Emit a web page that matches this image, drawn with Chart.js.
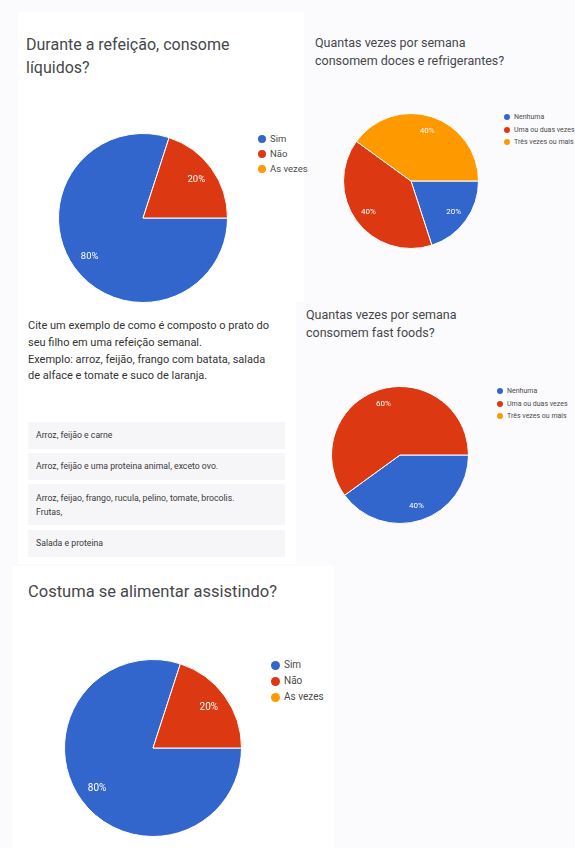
<!DOCTYPE html>
<html>
<head>
<meta charset="utf-8">
<script src="https://cdn.jsdelivr.net/npm/chart.js@4.4.1/dist/chart.umd.min.js"></script>
<style>
  html, body { margin: 0; padding: 0; }
  body {
    width: 575px; height: 848px; position: relative; overflow: hidden;
    background: #fbfbfd; font-family: Roboto, "Noto Sans", sans-serif; color: #3c4043;
  }
  .card { position: absolute; background: #ffffff; }
  .title { position: absolute; white-space: nowrap; color: #45474a; }
  canvas { position: absolute; }
  .legend { position: absolute; white-space: nowrap; color: #4a4a4a; }
  .legend div { position: relative; }
  .legend span.dot { position: absolute; border-radius: 50%; }
  .answer {
    position: absolute; left: 28px; width: 249px; padding-left: 8px;
    background: #f6f6f8; font-size: 8.7px; color: #3a3a3a; line-height: 14px;
  }
</style>
</head>
<body>
<div class="card" style="left:18px;top:12px;width:286px;height:290px;"></div>
<div class="card" style="left:18px;top:302px;width:278px;height:262px;"></div>
<div class="card" style="left:12px;top:566px;width:322px;height:282px;"></div>

<div class="title" style="left:26px;top:33px;font-size:16px;line-height:23px;">Durante a refeição, consome<br>líquidos?</div>
<div class="title" style="left:315px;top:34px;font-size:12.5px;line-height:18px;">Quantas vezes por semana<br>consomem doces e refrigerantes?</div>
<div class="title" style="left:28px;top:318px;font-size:11px;line-height:16.8px;color:#333;">Cite um exemplo de como é composto o prato do<br>seu filho em uma refeição semanal.<br>Exemplo: arroz, feijão, frango com batata, salada<br>de alface e tomate e suco de laranja.</div>
<div class="title" style="left:306px;top:306px;font-size:12.5px;line-height:18px;">Quantas vezes por semana<br>consomem fast foods?</div>
<div class="title" style="left:28px;top:580px;font-size:16.5px;line-height:24px;">Costuma se alimentar assistindo?</div>

<div class="answer" style="top:422px;height:27px;line-height:27px;">Arroz, feijão e carne</div>
<div class="answer" style="top:453px;height:27px;line-height:27px;">Arroz, feijão e uma proteina animal, exceto ovo.</div>
<div class="answer" style="top:484px;height:41px;padding-top:7px;box-sizing:border-box;width:257px;">Arroz, feijao, frango, rucula, pelino, tomate, brocolis.<br>Frutas,</div>
<div class="answer" style="top:530px;height:27px;line-height:27px;">Salada e proteina</div>

<canvas id="pie1" width="172" height="172" style="left:57px;top:132px;"></canvas>
<canvas id="pie2" width="138" height="138" style="left:342px;top:112px;"></canvas>
<canvas id="pie4" width="140" height="140" style="left:330px;top:385px;"></canvas>
<canvas id="pie5" width="180" height="180" style="left:63px;top:658px;"></canvas>

<div class="legend" id="leg1" style="left:258px;top:131px;font-size:9.5px;"></div>
<div class="legend" id="leg2" style="left:504px;top:111px;font-size:7px;"></div>
<div class="legend" id="leg4" style="left:497px;top:385px;font-size:7px;"></div>
<div class="legend" id="leg5" style="left:271px;top:657px;font-size:10px;"></div>

<script>
const colors = ["#3366cc", "#dc3912", "#ff9900"];

const liquidosLabels = ["Sim", "Não", "As vezes"];
const liquidosValues = [80, 20, 0];

const docesLabels = ["Nenhuma", "Uma ou duas vezes", "Três vezes ou mais"];
const docesValues = [20, 40, 40];

const fastLabels = ["Nenhuma", "Uma ou duas vezes", "Três vezes ou mais"];
const fastValues = [40, 60, 0];

const assistindoLabels = ["Sim", "Não", "As vezes"];
const assistindoValues = [80, 20, 0];

const pctLabels = {
  id: "pctLabels",
  afterDatasetsDraw(chart, args, opts) {
    const { ctx } = chart;
    const meta = chart.getDatasetMeta(0);
    const data = chart.data.datasets[0].data;
    ctx.save();
    ctx.fillStyle = "#ffffff";
    ctx.font = opts.size + "px Roboto";
    ctx.textAlign = "center";
    ctx.textBaseline = "middle";
    meta.data.forEach((arc, i) => {
      if (!data[i]) return;
      const p = arc.getProps(["x", "y", "startAngle", "endAngle", "outerRadius"], true);
      const mid = (p.startAngle + p.endAngle) / 2;
      const r = p.outerRadius * 0.78;
      ctx.fillText(data[i] + "%", p.x + Math.cos(mid) * r, p.y + Math.sin(mid) * r);
    });
    ctx.restore();
  }
};

function makePie(id, labels, values, labelSize) {
  new Chart(document.getElementById(id).getContext("2d"), {
    type: "pie",
    plugins: [pctLabels],
    data: {
      labels,
      datasets: [
        {
          data: values,
          backgroundColor: colors,
          borderColor: "#ffffff",
          borderWidth: 1
        }
      ]
    },
    options: {
      responsive: false,
      animation: false,
      rotation: 90,
      layout: { padding: 1 },
      plugins: {
        legend: { display: false },
        tooltip: { enabled: false },
        pctLabels: { size: labelSize }
      }
    }
  });
}

function makeLegend(id, labels, dot, rowH) {
  const box = document.getElementById(id);
  labels.forEach((label, i) => {
    const row = document.createElement("div");
    row.style.height = rowH + "px";
    row.style.lineHeight = rowH + "px";
    row.style.paddingLeft = (dot + 4) + "px";
    row.textContent = label;
    const d = document.createElement("span");
    d.className = "dot";
    d.style.width = dot + "px";
    d.style.height = dot + "px";
    d.style.left = "0px";
    d.style.top = ((rowH - dot) / 2) + "px";
    d.style.background = colors[i];
    row.appendChild(d);
    box.appendChild(row);
  });
}

makePie("pie1", liquidosLabels, liquidosValues, 9.5);
makePie("pie2", docesLabels, docesValues, 8);
makePie("pie4", fastLabels, fastValues, 8);
makePie("pie5", assistindoLabels, assistindoValues, 10);

makeLegend("leg1", liquidosLabels, 8, 15);
makeLegend("leg2", docesLabels, 6, 12.5);
makeLegend("leg4", fastLabels, 6, 12.5);
makeLegend("leg5", assistindoLabels, 9, 16);
</script>
</body>
</html>
